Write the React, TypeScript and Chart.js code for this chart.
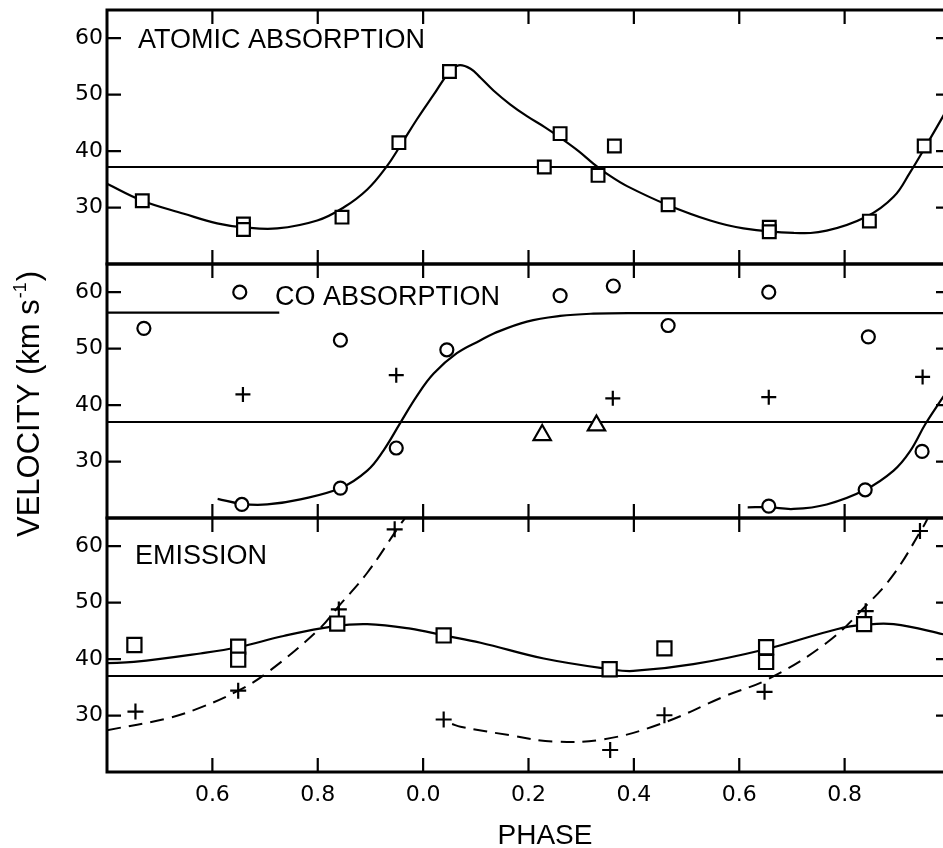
import React, { useEffect, useRef } from 'react';
import { Chart, registerables } from 'chart.js';

Chart.register(...registerables);

// ---- axis ticks ----
const xTickValues = [0.6, 0.8, 1.0, 1.2, 1.4, 1.6, 1.8];
const xTickLabels = ['0.6', '0.8', '0.0', '0.2', '0.4', '0.6', '0.8'];
const yTickValues = [30, 40, 50, 60];

// ---- Panel A: atomic absorption ----
const atomicPhase = [0.467, 0.659, 0.659, 0.846, 0.954, 1.05, 1.23, 1.26, 1.332, 1.363, 1.465, 1.657, 1.657, 1.847, 1.951];
const atomicVel = [31.2, 27.1, 26.1, 28.3, 41.5, 54.1, 37.2, 43.1, 35.7, 40.9, 30.5, 26.5, 25.7, 27.6, 40.9];
const atomicFitPhase = [0.4, 0.467, 0.546, 0.609, 0.659, 0.723, 0.799, 0.849, 0.894, 0.931, 0.957, 0.988, 1.02, 1.048, 1.067, 1.09, 1.109, 1.134, 1.165, 1.197, 1.23, 1.26, 1.295, 1.323, 1.355, 1.387, 1.463, 1.545, 1.608, 1.703, 1.766, 1.842, 1.893, 1.924, 1.956, 1.987, 2.0];
const atomicFitVel = [34.2, 31.2, 28.9, 27.2, 26.5, 26.3, 27.7, 30.0, 33.2, 37.3, 41.0, 45.6, 50.0, 53.8, 55.2, 54.6, 53.0, 50.7, 48.3, 46.2, 44.3, 42.4, 40.0, 37.8, 35.6, 33.8, 30.5, 27.7, 26.3, 25.5, 25.9, 28.4, 31.9, 36.2, 41.2, 46.2, 48.4];
const atomicMean = 37.2;

// ---- Panel B: CO absorption ----
const coCirclePhase = [0.47, 0.652, 0.656, 0.843, 0.843, 0.949, 1.045, 1.26, 1.361, 1.465, 1.656, 1.656, 1.845, 1.839, 1.947];
const coCircleVel = [53.6, 60.0, 22.4, 51.5, 25.3, 32.4, 49.8, 59.4, 61.1, 54.1, 60.0, 22.1, 52.1, 25.0, 31.8];
const coPlusPhase = [0.658, 0.949, 1.36, 1.656, 1.948];
const coPlusVel = [41.9, 45.3, 41.2, 41.4, 45.0];
const coTrianglePhase = [1.226, 1.329];
const coTriangleVel = [34.7, 36.4];
const coFit1Phase = [0.61, 0.656, 0.704, 0.767, 0.843, 0.894, 0.925, 0.957, 0.988, 1.02, 1.064, 1.109, 1.134, 1.197, 1.26, 1.323, 1.4, 2.0];
const coFit1Vel = [23.4, 22.5, 22.4, 23.3, 25.3, 28.4, 32.0, 36.9, 41.6, 45.6, 49.2, 51.5, 52.7, 54.8, 55.8, 56.2, 56.3, 56.3];
const coFit2Phase = [1.616, 1.656, 1.703, 1.766, 1.839, 1.893, 1.924, 1.953, 1.981, 2.0];
const coFit2Vel = [21.9, 21.9, 21.6, 22.4, 25.0, 28.4, 31.8, 36.6, 40.6, 43.2];
const coPlateauPhase = [0.4, 0.727];
const coPlateauVel = [56.4, 56.4];
const coMean = 37.0;

// ---- Panel C: emission ----
const emSquarePhase = [0.452, 0.649, 0.649, 0.837, 1.039, 1.354, 1.458, 1.651, 1.651, 1.837];
const emSquareVel = [42.5, 42.2, 39.9, 46.3, 44.2, 38.2, 41.9, 42.1, 39.5, 46.2];
const emPlusPhase = [0.454, 0.649, 0.84, 0.946, 1.039, 1.355, 1.458, 1.648, 1.84, 1.943];
const emPlusVel = [30.7, 34.4, 48.8, 63.0, 29.3, 23.9, 30.05, 34.2, 48.5, 62.7];
const emFitPhase = [0.4, 0.451, 0.577, 0.649, 0.735, 0.83, 0.894, 0.976, 1.039, 1.109, 1.229, 1.355, 1.399, 1.513, 1.652, 1.785, 1.839, 1.893, 1.987, 2.0];
const emFitVel = [39.3, 39.5, 41.0, 42.1, 44.1, 45.8, 46.2, 45.4, 44.2, 42.9, 40.1, 38.2, 37.9, 39.1, 41.8, 45.3, 46.1, 46.2, 44.4, 44.0];
const emDash1Phase = [0.4, 0.514, 0.577, 0.649, 0.704, 0.799, 0.84, 0.894, 0.957, 0.966];
const emDash1Vel = [27.4, 29.5, 31.4, 34.4, 37.6, 45.0, 49.4, 55.3, 63.9, 65.0];
const emDash2Phase = [1.055, 1.071, 1.166, 1.248, 1.343, 1.45, 1.577, 1.656, 1.766, 1.84, 1.893, 1.95, 1.958];
const emDash2Vel = [28.5, 28.0, 26.5, 25.4, 25.8, 28.5, 33.6, 36.5, 42.9, 49.4, 55.0, 63.6, 65.0];
const emMean = 37.0;

const zip = (xs: number[], ys: number[]) => xs.map((x, i) => ({ x, y: ys[i] }));

const TICK = 14;
const LABEL_FONT = '"Liberation Sans", Arial, sans-serif';

const curve = (data: any, axis: string, extra: any = {}) => ({
  data,
  yAxisID: axis,
  showLine: true,
  pointRadius: 0,
  borderColor: '#000',
  borderWidth: 2.2,
  tension: 0.4,
  fill: false,
  order: 2,
  ...extra,
});

const marks = (data: any, axis: string, style: string, radius: number) => ({
  data,
  yAxisID: axis,
  showLine: false,
  pointStyle: style,
  pointRadius: radius,
  pointBorderWidth: 2.2,
  pointBorderColor: '#000',
  pointBackgroundColor: '#fff',
  borderColor: '#000',
  backgroundColor: '#fff',
  order: 0,
});

const framePlugin = {
  id: 'framePlugin',
  afterDraw(chart: any) {
    const ctx = chart.ctx;
    const ca = chart.chartArea;
    const xs = chart.scales.x;
    ctx.save();
    ctx.strokeStyle = '#000';
    ['yA', 'yB', 'yC'].forEach((id) => {
      const s = chart.scales[id];
      ctx.lineWidth = 3;
      ctx.beginPath();
      ctx.moveTo(ca.right + 2, s.top);
      ctx.lineTo(ca.left, s.top);
      ctx.lineTo(ca.left, s.bottom);
      ctx.lineTo(ca.right + 2, s.bottom);
      ctx.stroke();
      ctx.lineWidth = 2.2;
      ctx.beginPath();
      xTickValues.forEach((v) => {
        const px = xs.getPixelForValue(v);
        ctx.moveTo(px, s.top);
        ctx.lineTo(px, s.top + TICK);
        ctx.moveTo(px, s.bottom);
        ctx.lineTo(px, s.bottom - TICK);
      });
      yTickValues.forEach((v) => {
        const py = s.getPixelForValue(v);
        ctx.moveTo(ca.left, py);
        ctx.lineTo(ca.left + TICK, py);
        ctx.moveTo(ca.right, py);
        ctx.lineTo(ca.right - TICK, py);
      });
      ctx.stroke();
    });

    // panel labels
    ctx.fillStyle = '#000';
    ctx.font = `27px ${LABEL_FONT}`;
    ctx.textAlign = 'left';
    ctx.textBaseline = 'alphabetic';
    ctx.fillText('ATOMIC ABSORPTION', ca.left + 31, chart.scales.yA.getPixelForValue(60) + 10);
    ctx.fillText('CO ABSORPTION', ca.left + 168, chart.scales.yB.getPixelForValue(60) + 13);
    ctx.fillText('EMISSION', ca.left + 28, chart.scales.yC.getPixelForValue(60) + 18);

    // x title
    ctx.font = `28px ${LABEL_FONT}`;
    ctx.textAlign = 'center';
    ctx.fillText('PHASE', 537, 836);

    // y title (rotated, with superscript)
    const main = 'VELOCITY (km s';
    const sup = '-1';
    const close = ')';
    ctx.font = `31px ${LABEL_FONT}`;
    const wMain = ctx.measureText(main).width;
    const wClose = ctx.measureText(close).width;
    ctx.font = `18px ${LABEL_FONT}`;
    const wSup = ctx.measureText(sup).width;
    const total = wMain + wSup + 2 + wClose;
    ctx.translate(31, 396);
    ctx.rotate(-Math.PI / 2);
    ctx.textAlign = 'left';
    let x0 = -total / 2;
    ctx.font = `31px ${LABEL_FONT}`;
    ctx.fillText(main, x0, 0);
    x0 += wMain + 1;
    ctx.font = `18px ${LABEL_FONT}`;
    ctx.fillText(sup, x0, -13);
    x0 += wSup + 1;
    ctx.font = `31px ${LABEL_FONT}`;
    ctx.fillText(close, x0, 0);
    ctx.restore();
  },
};

const yAxis = () => ({
  type: 'linear',
  position: 'left',
  stack: 'vel',
  stackWeight: 1,
  min: 20,
  max: 65,
  afterBuildTicks: (s: any) => {
    s.ticks = yTickValues.map((v) => ({ value: v }));
  },
  afterFit: (s: any) => {
    s.width = 99;
    s.paddingTop = 0;
    s.paddingBottom = 0;
  },
  grid: { display: false, drawTicks: false },
  border: { display: false },
  ticks: {
    padding: 4,
    color: '#000',
    font: { family: '"DejaVu Sans", sans-serif', size: 22 },
  },
});

export default function App() {
  const ref = useRef<HTMLCanvasElement>(null);
  useEffect(() => {
    document.documentElement.style.overflow = 'hidden';
    document.body.style.overflow = 'hidden';
    if (!ref.current) return;
    const chart = new Chart(ref.current, {
      type: 'scatter',
      data: {
        datasets: [
          // markers
          marks(zip(atomicPhase, atomicVel), 'yA', 'rect', 9),
          marks(zip(coCirclePhase, coCircleVel), 'yB', 'circle', 6.5),
          marks(zip(coPlusPhase, coPlusVel), 'yB', 'cross', 7.5),
          marks(zip(coTrianglePhase, coTriangleVel), 'yB', 'triangle', 10),
          marks(zip(emSquarePhase, emSquareVel), 'yC', 'rect', 10),
          marks(zip(emPlusPhase, emPlusVel), 'yC', 'cross', 8),
          // curves
          curve(zip(atomicFitPhase, atomicFitVel), 'yA'),
          curve([{ x: 0.4, y: atomicMean }, { x: 2.0, y: atomicMean }], 'yA', { borderWidth: 2 }),
          curve(zip(coFit1Phase, coFit1Vel), 'yB'),
          curve(zip(coFit2Phase, coFit2Vel), 'yB'),
          curve(zip(coPlateauPhase, coPlateauVel), 'yB'),
          curve([{ x: 0.4, y: coMean }, { x: 2.0, y: coMean }], 'yB', { borderWidth: 2 }),
          curve(zip(emFitPhase, emFitVel), 'yC'),
          curve(zip(emDash1Phase, emDash1Vel), 'yC', { borderDash: [14, 8], borderWidth: 2 }),
          curve(zip(emDash2Phase, emDash2Vel), 'yC', { borderDash: [14, 8], borderWidth: 2 }),
          curve([{ x: 0.4, y: emMean }, { x: 2.0, y: emMean }], 'yC', { borderWidth: 2 }),
        ] as any,
      },
      options: {
        responsive: false,
        animation: false,
        devicePixelRatio: 1,
        layout: { autoPadding: false, padding: { top: 2, right: 8, left: 0, bottom: 0 } },
        plugins: { legend: { display: false }, tooltip: { enabled: false }, title: { display: false } },
        scales: {
          x: {
            type: 'linear',
            position: 'bottom',
            min: 0.4,
            max: 2.0,
            afterBuildTicks: (s: any) => {
              s.ticks = xTickValues.map((v) => ({ value: v }));
            },
            afterFit: (s: any) => {
              s.height = 76;
              s.paddingLeft = 0;
              s.paddingRight = 0;
            },
            grid: { display: false, drawTicks: false },
            border: { display: false },
            ticks: {
              padding: 10,
              color: '#000',
              maxRotation: 0,
              autoSkip: false,
              font: { family: '"DejaVu Sans", sans-serif', size: 22 },
              callback: (_v: any, i: number) => xTickLabels[i],
            },
          },
          yC: yAxis(),
          yB: yAxis(),
          yA: yAxis(),
        } as any,
      },
      plugins: [framePlugin],
    });
    return () => chart.destroy();
  }, []);

  return (
    <div style={{ position: 'absolute', left: 8, top: 8, width: 935, height: 840, overflow: 'hidden' }}>
      <canvas ref={ref} width={950} height={840} style={{ display: 'block' }} />
    </div>
  );
}
